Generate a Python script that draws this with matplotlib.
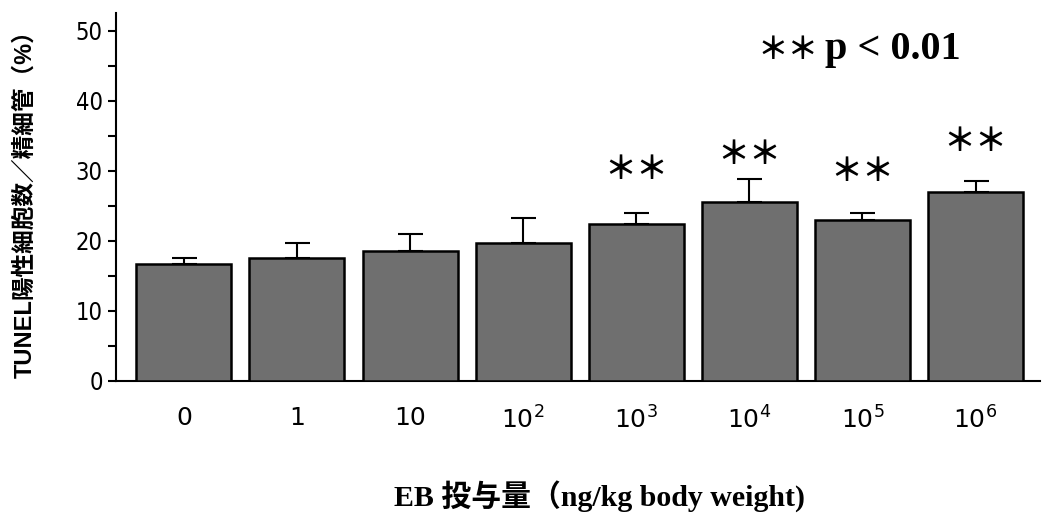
import numpy as np
import matplotlib
matplotlib.use("Agg")
import matplotlib.pyplot as plt

# datos
doses = ["0", "1", "10", "$10^2$", "$10^3$", "$10^4$", "$10^5$", "$10^6$"]
tunel = [16.7, 17.6, 18.6, 19.7, 22.4, 25.6, 23.0, 27.0]
sd = [0.9, 2.1, 2.4, 3.6, 1.6, 3.3, 1.0, 1.6]
signif = [False, False, False, False, True, True, True, True]
star_y = [0, 0, 0, 0, 30.1, 32.3, 29.9, 34.1]

serif_jp = ["Liberation Serif", "Noto Sans CJK JP"]
sans_narrow = ["DejaVu Sans"]

fig = plt.figure(figsize=(10.44, 5.24), dpi=100)
ax = fig.add_axes([116 / 1044, 143 / 524, 924 / 1044, 367.5 / 524])

x = np.arange(len(doses))
err = [np.zeros(len(sd)), sd]
ax.bar(x, tunel, width=0.84, color="#6f6f6f", edgecolor="black", linewidth=1.8, zorder=3)
ax.errorbar(x, tunel, yerr=err, fmt="none", ecolor="black", elinewidth=1.5,
            capsize=9, capthick=1.5, zorder=2)

for i in range(len(doses)):
    if signif[i]:
        ax.text(x[i], star_y[i], "＊＊", ha="center", va="center", fontsize=23,
                family=["Noto Sans CJK JP", "DejaVu Sans"], fontweight="bold")

# leyenda de significancia
ax.text(5.34, 47.3, "＊＊", ha="center", va="center", fontsize=22,
        family=["Noto Sans CJK JP", "DejaVu Sans"], fontweight="bold")
ax.text(5.67, 47.3, "p < 0.01", ha="left", va="center", fontsize=29,
        family=serif_jp, fontweight="bold")

ax.set_xlim(-0.6, 7.57)
ax.set_ylim(0, 52.5)
ax.spines["top"].set_visible(False)
ax.spines["right"].set_visible(False)
ax.spines["left"].set_linewidth(1.5)
ax.spines["bottom"].set_linewidth(1.5)

ax.set_yticks([0, 10, 20, 30, 40, 50])
ax.set_yticks(np.arange(5, 50, 10), minor=True)
ax.tick_params(axis="y", which="both", direction="out", length=6, width=1.5)
ax.set_yticklabels([0, 10, 20, 30, 40, 50], fontsize=17, family=sans_narrow,
                   fontstretch="condensed")

ax.set_xticks(x)
ax.set_xticklabels(doses, fontsize=18, family=sans_narrow)
ax.tick_params(axis="x", length=0, pad=18)

fig.text(25 / 1044, 1 - 198 / 524, "TUNEL陽性細胞数／精細管（%）", rotation=90,
         ha="center", va="center", fontsize=17, fontweight="bold",
         family=["Liberation Sans", "Noto Sans CJK JP"])
fig.text(600 / 1044, 1 - 497 / 524, "EB 投与量（ng/kg body weight)",
         ha="center", va="center", fontsize=21.5, fontweight="bold", family=serif_jp)

plt.savefig("out.png", dpi=100)
